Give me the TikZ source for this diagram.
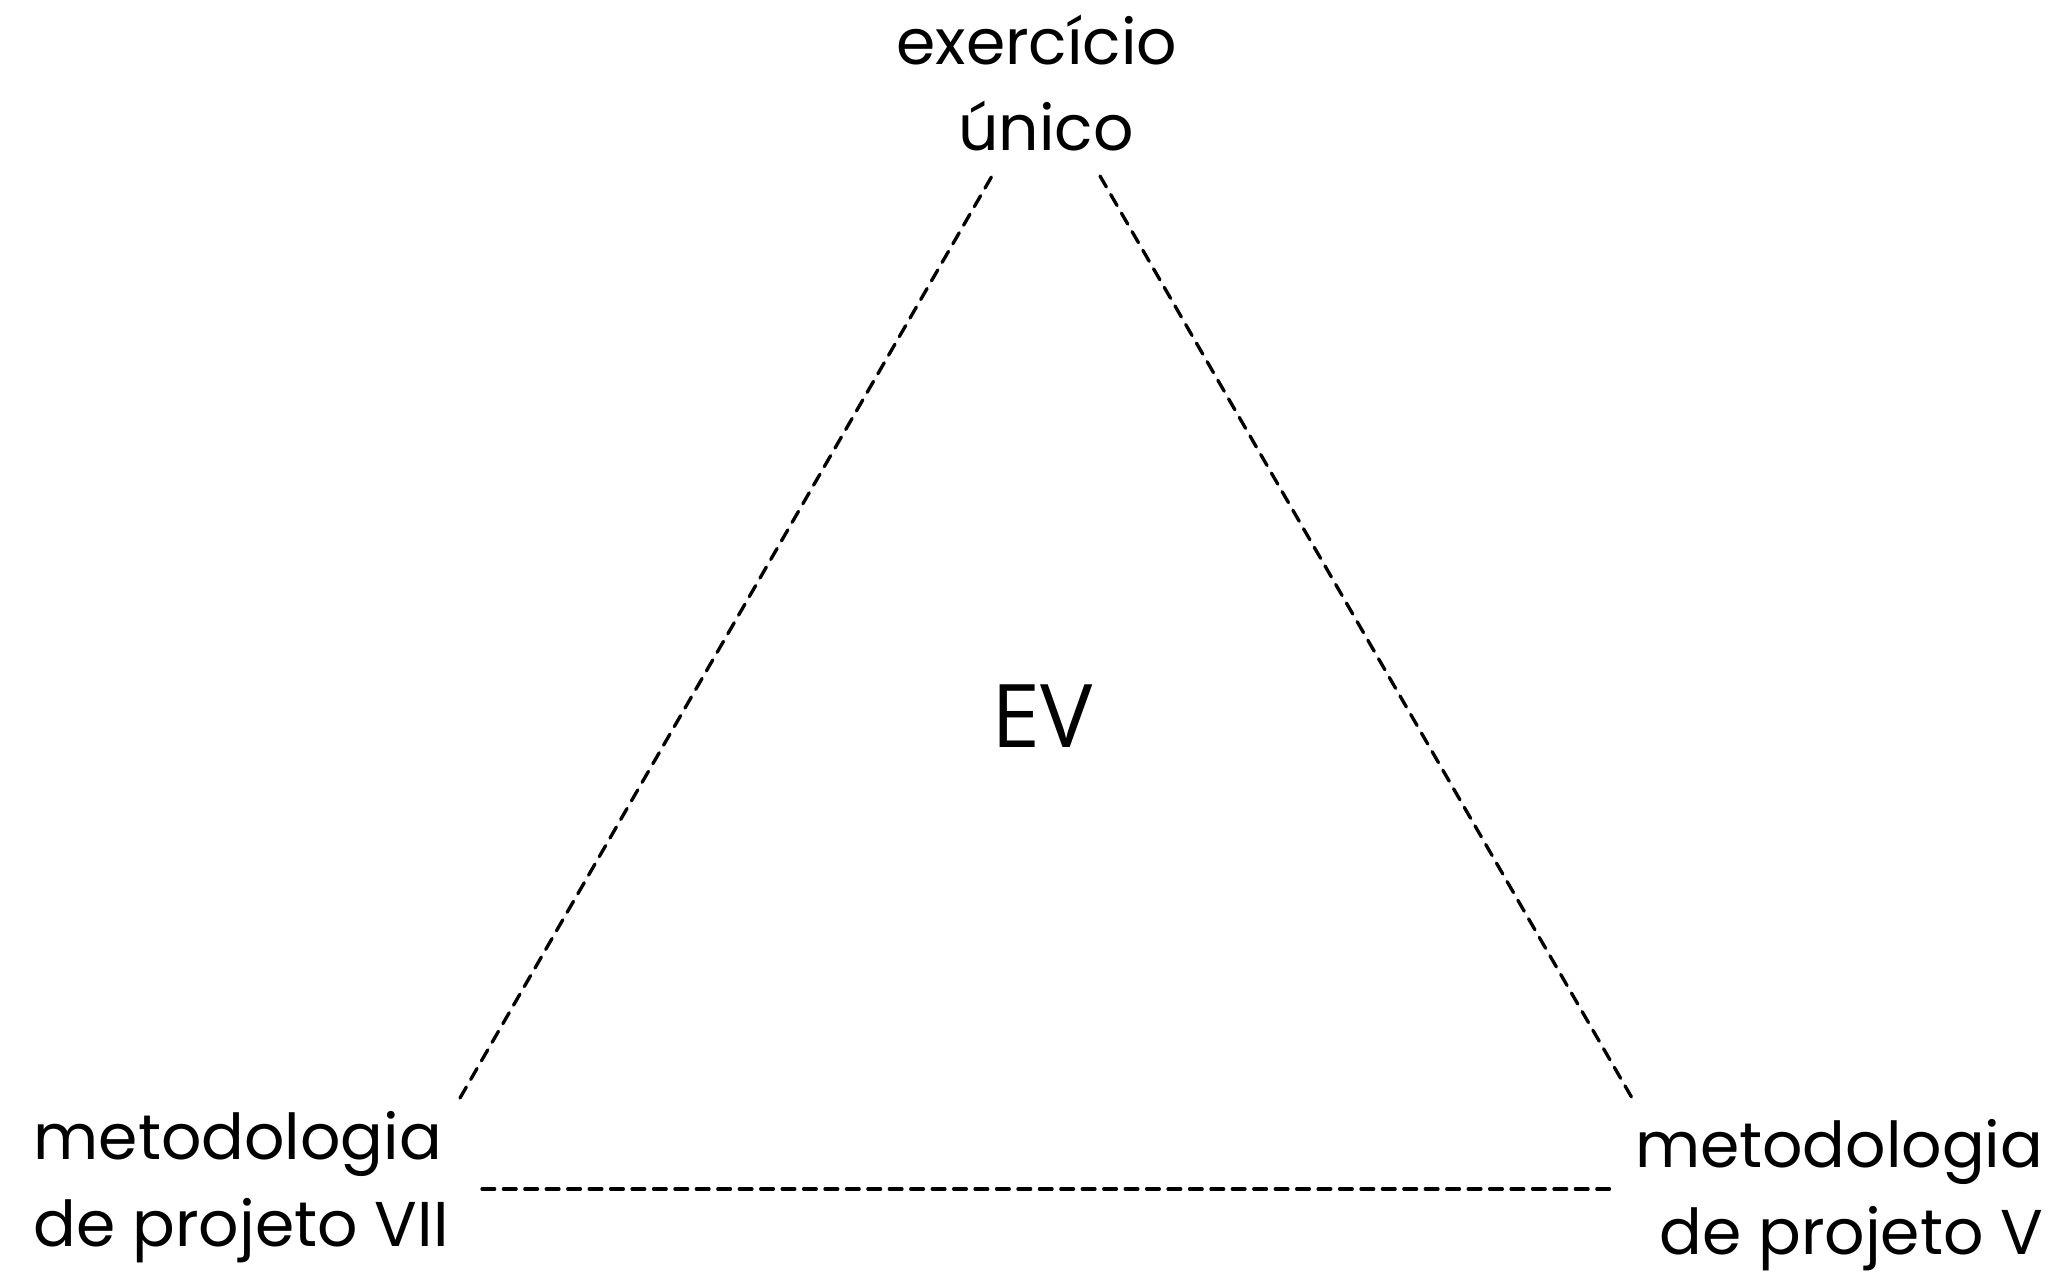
\documentclass[tikz,border=0pt]{standalone}
\usepackage{fontspec}
\setmainfont{Poppins}
\newfontfamily\evfont{Open Sans}

\begin{document}
\begin{tikzpicture}[
      every node/.style={font=\fontsize{18}{24.6}\selectfont, inner sep=0pt},
      vertex/.style={align=center},
      link/.style={line width=0.95pt, dash pattern=on 3.6pt off 2.5pt, line cap=round},
      centre/.style={font=\evfont\fontsize{25}{30}\selectfont},
    ]

    \useasboundingbox (0,0) rectangle (20.6,12.73);

    \node[vertex] (exercicio) at (10.37,11.90) {exercício\\\hspace*{0.18cm}único};
    \node[vertex, align=left, anchor=west] (mp7) at (0.33,0.86) {metodologia\\de projeto VII};
    \node[vertex, align=right, anchor=east] (mp5) at (20.44,0.78) {metodologia\\de projeto V};
    \node[centre] (ev) at (10.42,5.57) {EV};

    \coordinate (l1) at (4.60,1.75);
    \coordinate (l2) at (9.92,10.97);
    \coordinate (r1) at (11.00,10.97);
    \coordinate (r2) at (16.32,1.75);
    \coordinate (b1) at (4.82,0.84);
    \coordinate (b2) at (16.13,0.84);

    \draw[link] (l1) -- (l2);
    \draw[link] (r1) -- (r2);
    \draw[link] (b1) -- (b2);

  \end{tikzpicture}
\end{document}
